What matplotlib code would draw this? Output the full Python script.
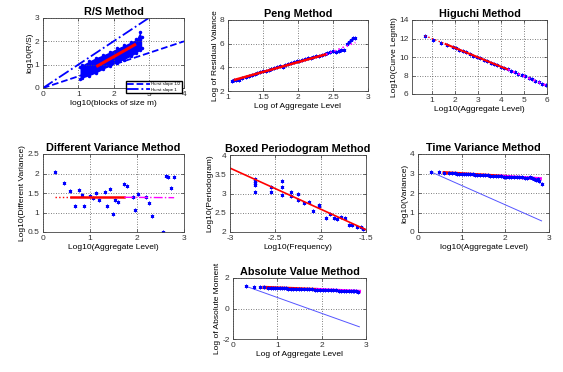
import matplotlib
matplotlib.use("Agg")
import matplotlib.pyplot as plt
from matplotlib.ticker import FormatStrFormatter

plt.rcParams['font.family'] = ['Liberation Sans', 'DejaVu Sans']
plt.rcParams['font.size'] = 6
plt.rcParams['axes.unicode_minus'] = False

W, H = 563, 372

# R/S method: envelope of the point cloud
rs_x = [1.05, 1.1, 1.3, 1.5, 1.7, 1.9, 2.1, 2.3, 2.5, 2.65, 2.75, 2.8]
rs_low = [0.38, 0.42, 0.52, 0.64, 0.8, 0.95, 1.08, 1.22, 1.36, 1.5, 1.62, 1.72]
rs_high = [0.88, 0.98, 1.15, 1.3, 1.42, 1.55, 1.7, 1.84, 1.98, 2.1, 2.4, 2.18]
rs_fit_x = [1.55, 2.6]
rs_fit_y = [0.95, 1.85]
hurst_x = [0, 4]
hurst_half = [0, 2]
hurst_one = [0, 4]

# Peng method
peng_x = [1.05, 1.08, 1.12, 1.15, 1.2, 1.25, 1.3, 1.34, 1.38, 1.42, 1.46, 1.5,
          1.54, 1.58, 1.62, 1.66, 1.7, 1.74, 1.78, 1.82, 1.86, 1.9, 1.94, 1.98,
          2.02, 2.06, 2.1, 2.14, 2.18, 2.22, 2.26, 2.3, 2.34, 2.38, 2.42, 2.46,
          2.5, 2.54, 2.58, 2.62, 2.66, 2.7, 2.73, 2.76, 2.79, 2.82]
peng_y = [2.85, 2.9, 2.92, 2.95, 3.1, 3.2, 3.3, 3.35, 3.4, 3.48, 3.58, 3.65,
          3.7, 3.75, 3.85, 3.98, 4.05, 4.1, 4.05, 4.2, 4.3, 4.35, 4.45, 4.5,
          4.55, 4.6, 4.72, 4.75, 4.8, 4.85, 4.92, 4.98, 5.05, 5.1, 5.18, 5.3,
          5.35, 5.3, 5.35, 5.45, 5.5, 5.95, 6.15, 6.35, 6.45, 6.5]
peng_fit_x = [1.1, 2.4]
peng_fit_y = [2.95, 5.1]
peng_ext_x = [2.4, 2.82]
peng_ext_y = [5.1, 6.1]

# Higuchi method
hig_x = [0.7, 1.05, 1.4, 1.65, 1.9, 2.05, 2.2, 2.35, 2.5, 2.65, 2.8, 2.95, 3.1,
         3.25, 3.4, 3.55, 3.7, 3.85, 4.0, 4.15, 4.3, 4.45, 4.6, 4.75, 4.9,
         5.05, 5.2, 5.35, 5.5, 5.65, 5.8, 5.95]
hig_y = [12.3, 11.85, 11.55, 11.35, 11.1, 10.95, 10.8, 10.65, 10.5, 10.3,
         10.15, 10.0, 9.85, 9.7, 9.55, 9.4, 9.25, 9.1, 8.95, 8.8, 8.65, 8.5,
         8.35, 8.2, 8.05, 7.9, 7.75, 7.6, 7.45, 7.3, 7.12, 6.95]
hig_pre_x = [0.7, 1.6]
hig_pre_y = [12.3, 11.4]
hig_fit_x = [1.6, 4.3]
hig_fit_y = [11.4, 8.65]
hig_post_x = [4.3, 6.0]
hig_post_y = [8.65, 6.9]

# Different variance method
dv_x = [0.26, 0.44, 0.58, 0.69, 0.76, 0.83, 0.88, 0.99, 1.06, 1.13, 1.2, 1.31,
        1.37, 1.43, 1.48, 1.54, 1.6, 1.73, 1.79, 1.91, 1.96, 2.02, 2.19, 2.26,
        2.32, 2.55, 2.61, 2.67, 2.72, 2.79]
dv_y = [2.05, 1.75, 1.56, 1.17, 1.58, 1.45, 1.17, 1.42, 1.38, 1.5, 1.33, 1.53,
        1.17, 1.61, 0.97, 1.31, 1.28, 1.73, 1.69, 1.4, 1.06, 1.48, 1.4, 1.25,
        0.91, 0.51, 1.93, 1.92, 1.64, 1.92]
dv_pre_x = [0.25, 0.6]
dv_pre_y = [1.4, 1.4]
dv_fit_x = [0.6, 1.73]
dv_fit_y = [1.39, 1.39]
dv_post_x = [1.73, 2.79]
dv_post_y = [1.39, 1.38]

# Boxed periodogram method
bp_x = [-2.724, -2.724, -2.724, -2.724, -2.724, -2.547, -2.547, -2.43, -2.43,
        -2.43, -2.325, -2.325, -2.25, -2.25, -2.18, -2.13, -2.08, -2.02, -2.02,
        -1.945, -1.9, -1.85, -1.82, -1.78, -1.73, -1.69, -1.65, -1.6, -1.555,
        -1.53]
bp_y = [3.37, 3.32, 3.26, 3.22, 3.03, 3.17, 3.04, 3.33, 3.16, 2.97, 3.03,
        2.93, 3.0, 2.84, 2.75, 2.77, 2.55, 2.7, 2.68, 2.37, 2.47, 2.37, 2.34,
        2.4, 2.36, 2.18, 2.17, 2.13, 2.12, 2.08]
bp_fit_x = [-3.0, -1.5]
bp_fit_y = [3.66, 2.06]

# Time variance method
tv_x = [0.3, 0.48, 0.6, 0.7, 0.78, 0.85, 0.9, 0.95, 1.0, 1.05, 1.1, 1.15, 1.2,
        1.25, 1.3, 1.36, 1.42, 1.48, 1.54, 1.6, 1.66, 1.72, 1.78, 1.84, 1.9,
        1.96, 2.02, 2.08, 2.14, 2.2, 2.26, 2.32, 2.38, 2.44, 2.5, 2.56, 2.62,
        2.66, 2.7, 2.74, 2.78, 2.83]
tv_y = [3.09, 3.06, 3.05, 3.04, 3.03, 3.02, 3.0, 3.0, 2.99, 2.98, 2.97, 2.96,
        2.95, 2.95, 2.94, 2.93, 2.92, 2.91, 2.9, 2.9, 2.88, 2.87, 2.86, 2.85,
        2.85, 2.84, 2.83, 2.83, 2.82, 2.82, 2.81, 2.8, 2.8, 2.79, 2.79, 2.8,
        2.78, 2.72, 2.65, 2.7, 2.6, 2.48]
tv_fit_x = [0.6, 1.9]
tv_fit_y = [3.04, 2.86]
tv_post_x = [1.9, 2.8]
tv_post_y = [2.86, 2.73]
tv_ref_x = [0.29, 2.83]
tv_ref_y = [3.09, 0.57]

# Absolute value method
av_x = [0.3, 0.48, 0.6, 0.7, 0.78, 0.85, 0.9, 0.95, 1.0, 1.05, 1.1, 1.15, 1.2,
        1.25, 1.3, 1.36, 1.42, 1.48, 1.54, 1.6, 1.66, 1.72, 1.78, 1.84, 1.9,
        1.96, 2.02, 2.08, 2.14, 2.2, 2.26, 2.32, 2.38, 2.44, 2.5, 2.56, 2.62,
        2.66, 2.7, 2.74, 2.78, 2.83]
av_y = [1.45, 1.4, 1.4, 1.38, 1.37, 1.36, 1.36, 1.35, 1.34, 1.34, 1.33, 1.32,
        1.32, 1.31, 1.3, 1.3, 1.29, 1.28, 1.28, 1.27, 1.26, 1.26, 1.25, 1.24,
        1.24, 1.23, 1.22, 1.22, 1.21, 1.2, 1.2, 1.19, 1.18, 1.18, 1.17, 1.17,
        1.16, 1.15, 1.14, 1.14, 1.12, 1.1]
av_fit_x = [0.7, 1.9]
av_fit_y = [1.38, 1.24]
av_post_x = [1.9, 2.85]
av_post_y = [1.24, 1.12]
av_ref_x = [0.3, 2.85]
av_ref_y = [1.45, -1.2]

BLUE = (0, 0, 1)
STAR = (6, 2, 0)
MK = dict(linestyle='none', marker=STAR, color=BLUE, markersize=2.6,
          markeredgewidth=0.6)


def axes_at(fig, l, t, r, b):
    ax = fig.add_axes([l / W, 1 - b / H, (r - l) / W, (b - t) / H])
    ax.grid(True, linestyle=(0, (1, 2)), color='#555555', linewidth=0.6)
    ax.tick_params(direction='in', length=2, width=0.5, pad=2.5,
                   labelsize=6, colors='#333333', top=True, right=True,
                   labeltop=False, labelright=False)
    ax.xaxis.set_major_formatter(FormatStrFormatter('%g'))
    ax.yaxis.set_major_formatter(FormatStrFormatter('%g'))
    for s in ax.spines.values():
        s.set_linewidth(0.6)
        s.set_color('#444444')
    return ax


def style(ax, title, xlabel, ylabel):
    ax.set_title(title, fontsize=7.8, fontweight='bold', pad=2)
    ax.set_xlabel(xlabel, fontsize=6, labelpad=1)
    ax.set_ylabel(ylabel, fontsize=6, labelpad=1)


fig = plt.figure(figsize=(W / 100, H / 100), dpi=100)

# R/S
ax = axes_at(fig, 43, 18, 184, 88)
ax.fill_between(rs_x, rs_low, rs_high, color=BLUE, linewidth=0)
ax.plot(rs_x, rs_low, '.', color=BLUE, markersize=3)
ax.plot(rs_x, rs_high, '.', color=BLUE, markersize=3)
ax.plot(rs_fit_x, rs_fit_y, color='red', linewidth=2.2)
l1, = ax.plot(hurst_x, hurst_half, '--', color=BLUE, linewidth=1.3,
              label='Hurst slope 1/2')
l2, = ax.plot(hurst_x, hurst_one, '-.', color=BLUE, linewidth=1.3,
              label='Hurst slope 1')
ax.set_xlim(0, 4)
ax.set_ylim(0, 3)
ax.set_xticks([0, 1, 2, 3, 4])
ax.set_yticks([0, 1, 2, 3])
style(ax, 'R/S Method', 'log10(blocks of size m)', 'log10(R/S)')
fig.legend(handles=[l1, l2], loc='upper left',
           bbox_to_anchor=(126 / W, 1 - 81 / H), fontsize=3.2,
           frameon=True, fancybox=False, edgecolor='black', framealpha=1,
           handlelength=5, borderpad=0.3, labelspacing=0.3,
           handletextpad=0.4, borderaxespad=0)

# Peng
ax = axes_at(fig, 228, 20, 368, 91)
ax.plot(peng_x, peng_y, **MK)
ax.plot(peng_fit_x, peng_fit_y, color='red', linewidth=1.8, zorder=3)
ax.plot(peng_ext_x, peng_ext_y, ':', color='magenta', linewidth=1.2, zorder=3)
ax.set_xlim(1, 3)
ax.set_ylim(2, 8)
ax.set_xticks([1, 1.5, 2, 2.5, 3])
ax.set_yticks([2, 4, 6, 8])
style(ax, 'Peng Method', 'Log of Aggregate Level', 'Log of Residual Vaiance')

# Higuchi
ax = axes_at(fig, 412, 20, 547, 94)
ax.plot(hig_x, hig_y, **MK)
ax.plot(hig_pre_x, hig_pre_y, ':', color='red', linewidth=1.0, zorder=3)
ax.plot(hig_fit_x, hig_fit_y, color='red', linewidth=1.5, zorder=3)
ax.plot(hig_post_x, hig_post_y, ':', color='magenta', linewidth=1.5, zorder=3)
ax.set_xlim(0.14, 6)
ax.set_ylim(6, 14)
ax.set_xticks([1, 2, 3, 4, 5, 6])
ax.set_yticks([6, 8, 10, 12, 14])
style(ax, 'Higuchi Method', 'Log10(Aggregate Level)', 'Log10(Curve Legnth)')

# Different variance
ax = axes_at(fig, 43, 154, 184, 232)
ax.plot(dv_x, dv_y, **MK)
ax.plot(dv_pre_x, dv_pre_y, ':', color='red', linewidth=1.0)
ax.plot(dv_fit_x, dv_fit_y, color='red', linewidth=1.8)
ax.plot(dv_post_x, dv_post_y, '-.', color='magenta', linewidth=1.0)
ax.set_xlim(0, 3)
ax.set_ylim(0.5, 2.5)
ax.set_xticks([0, 1, 2, 3])
ax.set_yticks([0.5, 1, 1.5, 2, 2.5])
style(ax, 'Different Variance Method', 'Log10(Aggregate Level)',
      'Log10(Different Variance)')

# Boxed periodogram
ax = axes_at(fig, 230, 155, 366, 232)
ax.plot(bp_x, bp_y, **MK)
ax.plot(bp_fit_x, bp_fit_y, color='red', linewidth=1.2)
ax.set_xlim(-3, -1.5)
ax.set_ylim(2, 4)
ax.set_xticks([-3, -2.5, -2, -1.5])
ax.set_yticks([2, 2.5, 3, 3.5, 4])
style(ax, 'Boxed Periodogram Method', 'Log10(Frequency)', 'Log10(Periodogram)')

# Time variance
ax = axes_at(fig, 418, 154, 549, 232)
ax.plot(tv_ref_x, tv_ref_y, color='#5555ff', linewidth=0.7)
ax.plot(tv_fit_x, tv_fit_y, color='red', linewidth=2.4)
ax.plot(tv_post_x, tv_post_y, color='magenta', linewidth=2.4)
ax.plot(tv_x, tv_y, **MK)
ax.set_xlim(0, 3)
ax.set_ylim(0, 4)
ax.set_xticks([0, 1, 2, 3])
ax.set_yticks([0, 1, 2, 3, 4])
style(ax, 'Time Variance Method', 'log10(Aggregate Level)', 'log10(Variance)')

# Absolute value
ax = axes_at(fig, 233, 278, 366, 339)
ax.plot(av_ref_x, av_ref_y, color='#5555ff', linewidth=0.7)
ax.plot(av_fit_x, av_fit_y, color='red', linewidth=2.4)
ax.plot(av_post_x, av_post_y, color='magenta', linewidth=2.4)
ax.plot(av_x, av_y, **MK)
ax.set_xlim(0, 3)
ax.set_ylim(-2, 2)
ax.set_xticks([0, 1, 2, 3])
ax.set_yticks([-2, 0, 2])
style(ax, 'Absolute Value Method', 'Log of Aggregate Level',
      'Log of Absolute Moment')

fig.savefig('out.png', dpi=100)
